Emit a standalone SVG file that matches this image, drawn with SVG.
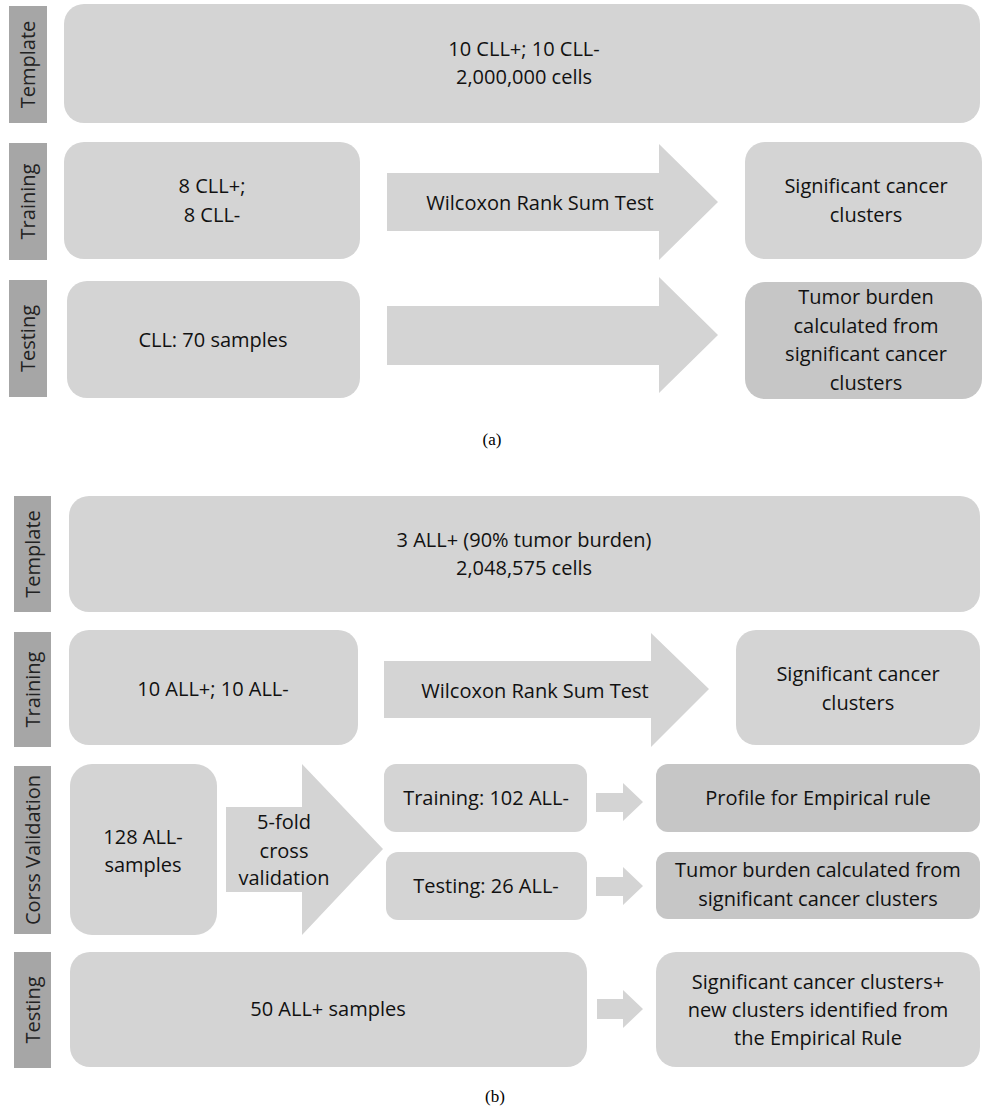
<svg xmlns="http://www.w3.org/2000/svg" width="984" height="1111" viewBox="0 0 984 1111">
<style>
.bar{fill:#a6a6a6}
.box{fill:#d4d4d4}
.dark{fill:#c6c6c6}
.arr{fill:#d4d4d4}
.lab{font-family:"Open Sans",sans-serif;font-size:20px;fill:#222;text-anchor:middle}
.t{font-family:"Open Sans",sans-serif;font-size:20px;fill:#111;text-anchor:middle}
.cap{font-family:"Liberation Serif",serif;font-size:17px;fill:#000;text-anchor:middle}
</style>
<rect width="984" height="1111" fill="#fff"/>

<!-- Part (a) labels -->
<g id="a-label-template"><rect class="bar" x="9" y="6" width="38" height="117"/><text class="lab" transform="translate(35,64.5) rotate(-90)">Template</text></g>
<g id="a-label-training"><rect class="bar" x="9" y="143" width="38" height="117"/><text class="lab" transform="translate(35,201.5) rotate(-90)">Training</text></g>
<g id="a-label-testing"><rect class="bar" x="9" y="280" width="38" height="117"/><text class="lab" transform="translate(35,338.5) rotate(-90)">Testing</text></g>

<g id="a-template"><rect class="box" x="64" y="4" width="916" height="119" rx="20"/>
<text class="t" x="524" y="56">10 CLL+; 10 CLL-</text><text class="t" x="524" y="84">2,000,000 cells</text></g>
<g id="a-train-in"><rect class="box" x="64" y="142" width="296" height="117" rx="20"/>
<text class="t" x="212" y="193">8 CLL+;</text><text class="t" x="212" y="222">8 CLL-</text></g>
<g id="a-train-out"><rect class="box" x="745" y="142" width="237" height="117" rx="20"/>
<text class="t" x="866" y="193">Significant cancer</text><text class="t" x="866" y="222">clusters</text></g>
<g id="a-test-in"><rect class="box" x="67" y="281" width="293" height="117" rx="20"/>
<text class="t" x="213" y="347">CLL: 70 samples</text></g>
<g id="a-test-out"><rect class="dark" x="745" y="282" width="237" height="117" rx="20"/>
<text class="t" x="866" y="304">Tumor burden</text><text class="t" x="866" y="333">calculated from</text><text class="t" x="866" y="361">significant cancer</text><text class="t" x="866" y="390">clusters</text></g>

<!-- Part (b) labels -->
<g id="b-label-template"><rect class="bar" x="14" y="496" width="37" height="116"/><text class="lab" transform="translate(39.5,554) rotate(-90)">Template</text></g>
<g id="b-label-training"><rect class="bar" x="14" y="632" width="37" height="115"/><text class="lab" transform="translate(39.5,689.5) rotate(-90)">Training</text></g>
<g id="b-label-cv"><rect class="bar" x="14" y="766" width="37" height="168"/><text class="lab" transform="translate(39.5,850) rotate(-90)">Corss Validation</text></g>
<g id="b-label-testing"><rect class="bar" x="14" y="952" width="37" height="116"/><text class="lab" transform="translate(39.5,1010) rotate(-90)">Testing</text></g>

<g id="b-template"><rect class="box" x="69" y="496" width="911" height="116" rx="20"/>
<text class="t" x="524" y="547">3 ALL+ (90% tumor burden)</text><text class="t" x="524" y="575">2,048,575 cells</text></g>
<g id="b-train-in"><rect class="box" x="69" y="630" width="289" height="115" rx="20"/>
<text class="t" x="213" y="696">10 ALL+; 10 ALL-</text></g>
<g id="b-train-out"><rect class="box" x="736" y="630" width="244" height="115" rx="20"/>
<text class="t" x="858" y="681">Significant cancer</text><text class="t" x="858" y="710">clusters</text></g>
<g id="b-cv-in"><rect class="box" x="70" y="764" width="147" height="171" rx="22"/>
<text class="t" x="143" y="844">128 ALL-</text><text class="t" x="143" y="872">samples</text></g>
<g id="b-cv-train"><rect class="box" x="384" y="764" width="203" height="68" rx="12"/>
<text class="t" x="486" y="805">Training: 102 ALL-</text></g>
<g id="b-cv-test"><rect class="box" x="386" y="852" width="201" height="68" rx="12"/>
<text class="t" x="486" y="893">Testing: 26 ALL-</text></g>
<g id="b-cv-profile"><rect class="dark" x="656" y="764" width="324" height="68" rx="12"/>
<text class="t" x="818" y="805">Profile for Empirical rule</text></g>
<g id="b-cv-tumor"><rect class="dark" x="656" y="852" width="324" height="67" rx="12"/>
<text class="t" x="818" y="877">Tumor burden calculated from</text><text class="t" x="818" y="906">significant cancer clusters</text></g>
<g id="b-test-in"><rect class="box" x="70" y="952" width="517" height="115" rx="20"/>
<text class="t" x="328" y="1016">50 ALL+ samples</text></g>
<g id="b-test-out"><rect class="box" x="656" y="952" width="324" height="115" rx="20"/>
<text class="t" x="818" y="989">Significant cancer clusters+</text><text class="t" x="818" y="1017">new clusters identified from</text><text class="t" x="818" y="1045">the Empirical Rule</text></g>

<g id="connectors">
<polygon class="arr" points="387,173 659,173 659,144 718,202 659,260 659,231 387,231"/>
<text class="t" x="540" y="210">Wilcoxon Rank Sum Test</text>
<polygon class="arr" points="387,306 659,306 659,277 718,335 659,393 659,365 387,365"/>
<polygon class="arr" points="384,661 651,661 651,633 709,689 651,747 651,718 384,718"/>
<text class="t" x="535" y="698">Wilcoxon Rank Sum Test</text>
<polygon class="arr" points="226,807 302,807 302,764 383,849 302,935 302,892 226,892"/>
<text class="t" x="284" y="829">5-fold</text><text class="t" x="284" y="858">cross</text><text class="t" x="284" y="885">validation</text>
<polygon class="arr" points="596,793 623,793 623,783 643,802 623,821 623,812 596,812"/>
<polygon class="arr" points="596,877 623,877 623,867 643,886 623,905 623,896 596,896"/>
<polygon class="arr" points="597,999 623,999 623,990 643,1009 623,1028 623,1019 597,1019"/>
</g>

<text class="cap" x="492" y="445">(a)</text>
<text class="cap" x="495" y="1102">(b)</text>
</svg>
